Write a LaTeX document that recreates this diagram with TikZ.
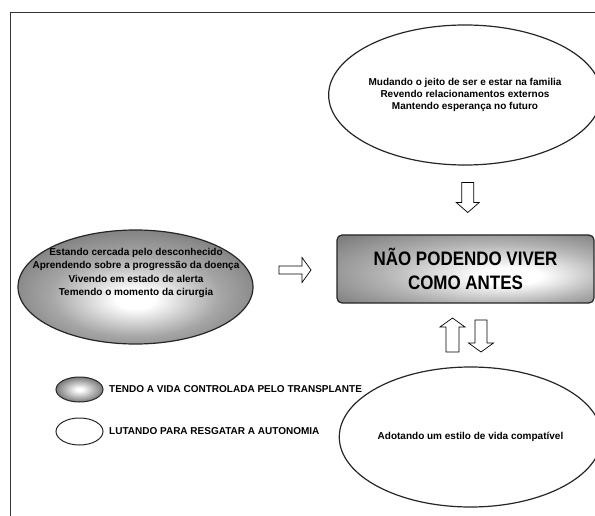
\documentclass[tikz,border=0pt]{standalone}
\usepackage{fontspec}
\setmainfont{Liberation Sans}
\newfontfamily\narrowfont[FakeStretch=0.87]{Liberation Sans}
\usetikzlibrary{shapes.geometric,calc}
\pgfdeclareradialshading{leftball}{\pgfpoint{0bp}{-6bp}}{color(0bp)=(white); color(4bp)=(white); color(18bp)=(black!35); color(32bp)=(black!55); color(50bp)=(black!60)}
\pgfdeclareradialshading{legball}{\pgfpoint{0bp}{0bp}}{color(0bp)=(white); color(3bp)=(white); color(25bp)=(black!52); color(50bp)=(black!55)}
\pgfdeclareradialshading{boxshade}{\pgfpoint{10bp}{-6bp}}{color(0bp)=(white); color(6bp)=(white); color(22bp)=(black!30); color(36bp)=(black!50); color(50bp)=(black!55)}
\tikzset{
  ell/.style={ellipse, draw=black!85, line width=1.2pt, inner sep=0pt, align=center,
              font=\bfseries\fontsize{10}{12}\selectfont},
  txt/.style={font=\bfseries\fontsize{10}{13.3}\selectfont, align=center, inner sep=0pt},
  legtxt/.style={font=\bfseries\fontsize{10}{12}\selectfont, anchor=west, inner sep=0pt},
  arrowline/.style={draw=black, fill=white, line width=0.7pt, line join=miter},
  frameline/.style={draw=black!80, line width=1pt},
  pics/blockarrow/.style args={#1/#2/#3/#4}{code={
    \draw[arrowline] ({-#1/2},{-#2}) -- ({#1/2-#4},{-#2}) -- ({#1/2-#4},{-#3})
      -- ({#1/2},0) -- ({#1/2-#4},{#3}) -- ({#1/2-#4},{#2}) -- ({-#1/2},{#2}) -- cycle;
  }}
}
\begin{document}
\begin{tikzpicture}[x=1pt, y=-1pt]
\useasboundingbox (0,0) rectangle (595,516);
\fill[white] (0,0) rectangle (595,516);
% frame
\coordinate (fTR) at (595,13);
\coordinate (fTL) at (10.5,13);
\coordinate (fBL) at (10.5,516);
\draw[frameline] (fTR) -- (fTL) -- (fBL);

% top ellipse
\node[ell, minimum width=226, minimum height=140] (topell) at (465,95)
  {Mudando o jeito de ser e estar na familia\\Revendo relacionamentos externos\\Mantendo esperança no futuro};

% left shaded ellipse
\node[ell, shading=leftball, minimum width=235, minimum height=114] (leftell) at (135.5,287) {};
\node[txt] (lefttxt) at (136,273)
  {Estando cercada pelo desconhecido\\Aprendendo sobre a progressão da doença\\Vivendo em estado de alerta\\Temendo o momento da cirurgia};

% central box
\node[draw=black!85, line width=1.2pt, rounded corners=5pt, shading=boxshade,
      minimum width=257, minimum height=68, inner sep=0pt, align=center,
      font=\narrowfont\bfseries\fontsize{19.5}{24}\selectfont] (box) at (465.5,269)
  {NÃO PODENDO VIVER\\COMO ANTES};

% bottom ellipse
\node[ell, minimum width=239, minimum height=140] (botell) at (470.5,437)
  {Adotando um estilo de vida compatível};

% legend
\node[ell, shading=legball, line width=1pt, minimum width=47, minimum height=25] (leg1) at (79.5,389.5) {};
\node[legtxt] (leg1t) at (109,389) {TENDO A VIDA CONTROLADA PELO TRANSPLANTE};
\node[ell, line width=1pt, minimum width=47, minimum height=27] (leg2) at (79.5,431.5) {};
\node[legtxt] (leg2t) at (109,431) {LUTANDO PARA RESGATAR A AUTONOMIA};

% block arrows
\pic (arrLeft) at ($(leftell.east)!0.5!(box.west)+(0,-8)$) {blockarrow=32/4/12.5/9};
\pic[rotate=-90] (arrTop) at ($(topell.south)!0.5!(box.north)+(2.5,-2.5)$) {blockarrow=30/6/11.5/10};
\pic[rotate=90] (arrUp) at ($(box.south)!0.5!(botell.north)+(-15.5,0)$) {blockarrow=34/6.5/12.5/9};
\pic[rotate=-90] (arrDown) at ($(box.south)!0.5!(botell.north)+(13,1)$) {blockarrow=32/6/12.5/9};
\end{tikzpicture}
\end{document}
